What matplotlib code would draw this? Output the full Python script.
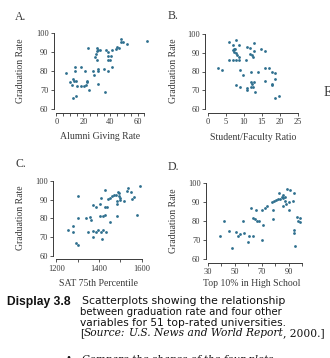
import matplotlib
matplotlib.use("Agg")
import matplotlib.pyplot as plt
from matplotlib.ticker import FixedLocator

# ---- data: graduation rate vs. four variables, 51 universities ----
alumni_giving = [7.3, 9.8, 13.5, 13.5, 12.5, 13, 14.8, 11.8, 15, 18, 20.5, 22, 22.8,
                 22.5, 18.5, 21.5, 23.5, 12.3, 14.3, 24.5, 26.8, 27.8, 30.8, 30.8, 31,
                 29, 28.8, 30, 30, 31, 32.5, 29.8, 35.5, 35.8, 38.5, 38, 39.8, 40.5,
                 38, 37, 38.5, 41, 41, 44, 45, 46, 48, 48, 49.3, 52, 66.8]
grad_a = [79, 74, 82, 80, 76, 75, 74.5, 72.5, 72, 72, 72, 72.5, 74,
          75, 82, 80, 92, 66, 67, 70, 80, 78, 80, 81, 73,
          89, 87.5, 86, 92, 91, 91.3, 90.7, 81, 69, 80, 86, 86, 88,
          88, 91, 90, 91, 82, 91.5, 92.6, 92, 97, 95.5, 95, 94, 96]

sf_ratio = [2.8, 4, 6, 7, 7.9, 8.8, 6.9, 7.2, 7.3, 7.6, 7.9, 8, 7.9, 6, 6.9, 8.6,
            8.7, 8.9, 9.9, 7.9, 8.9, 10.8, 10.6, 11.8, 11.8, 12.2, 12.8, 12.8, 12.7,
            12, 13.9, 14.8, 15.8, 16, 16.9, 17.8, 18.7, 15.8, 17.8, 17.8, 18.8, 10.8,
            10.8, 11.9, 12.3, 12.6, 12.8, 12, 13, 18.8, 19.9]
grad_b = [82, 81, 96, 94, 97, 94, 91.5, 91.8, 90.5, 91.8, 90, 88.8, 86, 86, 86, 87.5,
          86, 81, 78, 73, 72, 93, 86, 92.5, 89.5, 88.8, 91, 95, 87.5,
          80, 80, 92, 91, 82, 82, 80, 79, 75, 73.5, 72.8, 76, 71,
          70, 72, 73.5, 72, 74.5, 74.5, 69, 66, 67]

sat75 = [1256, 1277, 1280, 1292, 1300, 1302, 1303, 1339, 1358, 1361, 1347, 1370, 1370,
         1372, 1386, 1386, 1395, 1405, 1405, 1408, 1408, 1412, 1419, 1420, 1428, 1430,
         1433, 1430, 1437, 1442, 1450, 1453, 1461, 1469, 1480, 1484, 1484, 1484, 1489,
         1495, 1495, 1500, 1500, 1517, 1530, 1535, 1550, 1555, 1562, 1577, 1590]
grad_c = [74, 76, 72.5, 67, 66, 92, 80, 80, 80.5, 79, 72.5, 87, 73.5,
          70, 86, 72.5, 74, 81, 87.5, 91, 73, 69, 74, 81.5, 95, 82,
          72.5, 86, 86, 90.5, 91, 78, 92, 92.5, 92.5, 89, 81, 87.5, 94,
          93.5, 92, 91, 89.5, 89, 94.5, 96, 94, 90.5, 91.5, 82, 97]

top10 = [39, 42, 46, 48, 51, 52.5, 54, 56, 57, 60, 60.5, 62, 63.3, 63.3, 65, 66, 66.3,
         67.8, 70, 70, 70.8, 72.5, 74, 77.5, 78, 78, 79, 80.5, 82, 82.5, 83.5, 85,
         85.5, 86, 86, 87, 87.5, 88, 89, 90, 90.3, 91, 93.5, 94.2, 94.2, 94.2, 94.7,
         96.5, 97, 98.3, 98.3]
grad_d = [72, 80, 75, 66, 74.5, 72, 73, 80, 74, 69, 72, 87, 72, 81.5, 81, 86, 80,
          80, 86, 70, 78, 87, 88, 90, 86, 81, 90.5, 91, 91.5, 95, 91.5, 93,
          88, 94, 92, 92.6, 90.5, 89, 97, 86, 90, 96.5, 90.5, 95, 75.5, 74, 67,
          82, 80, 81.5, 79.5]

grad_ticks = [60, 70, 80, 90, 100]

W, H = 330, 358
fig = plt.figure(figsize=(W / 100, H / 100), dpi=100)
fig.patch.set_facecolor("white")
renderer = fig.canvas.get_renderer()

SERIF = ["Liberation Serif", "DejaVu Serif"]
SANS = ["Liberation Sans", "DejaVu Sans"]
WIDE_SANS = ["DejaVu Sans"]
WIDE_SERIF = ["DejaVu Serif"]
DOT = "#2e6f8e"
INK = "#3a3a3a"
CAP = "#111111"


def px_text(x, y, s, **kw):
    return fig.text(x / W, 1 - y / H, s, **kw)


def fitted_line(x0, x1, y, pieces, family, base=8.0):
    """Lay out (text, style) pieces left to right, sized so the line spans x0..x1 px."""
    texts = [px_text(0, y, s, family=family, style=st, color=CAP, fontsize=base,
                     va="center") for s, st in pieces]
    total = sum(t.get_window_extent(renderer).width for t in texts)
    size = base * (x1 - x0) / total
    x = x0
    for t in texts:
        t.set_fontsize(size)
        t.set_x(x / W)
        x += t.get_window_extent(renderer).width
    return texts


def panel(xmap, ymap, xlim, ylim, xmajor, xminor, xbounds):
    """xmap/ymap: ((value, pixel), (value, pixel)) calibration pairs."""
    (xa, pxa), (xb, pxb) = xmap
    (ya, pya), (yb, pyb) = ymap
    sx = (pxb - pxa) / (xb - xa)
    sy = (pyb - pya) / (yb - ya)
    left = pxa + (xlim[0] - xa) * sx
    right = pxa + (xlim[1] - xa) * sx
    bottom = pya + (ylim[0] - ya) * sy
    top = pya + (ylim[1] - ya) * sy
    ax = fig.add_axes([left / W, 1 - bottom / H, (right - left) / W, (bottom - top) / H])
    ax.set_xlim(*xlim)
    ax.set_ylim(*ylim)
    for side in ("top", "right"):
        ax.spines[side].set_visible(False)
    for side in ("left", "bottom"):
        ax.spines[side].set_color(INK)
        ax.spines[side].set_linewidth(0.7)
    ax.spines["left"].set_bounds(60, 100)
    ax.spines["bottom"].set_bounds(*xbounds)
    ax.yaxis.set_major_locator(FixedLocator(grad_ticks))
    ax.xaxis.set_major_locator(FixedLocator(xmajor))
    ax.xaxis.set_minor_locator(FixedLocator(xminor))
    ax.tick_params(which="both", direction="out", length=2.2, width=0.6,
                   color=INK, labelsize=6, labelcolor=INK, pad=1.5)
    for lab in ax.get_xticklabels() + ax.get_yticklabels():
        lab.set_family(SERIF)
    ax.patch.set_alpha(0)
    return ax


# A. Alumni giving rate
axA = panel(((0, 56.3), (60, 137.5)), ((60, 109), (100, 33)),
            (-1.9, 68), (57.9, 101.6), [0, 20, 40, 60],
            [5, 10, 15, 25, 30, 35, 45, 50, 55, 65], (0, 65))
axA.scatter(alumni_giving, grad_a, s=4, color=DOT, linewidths=0, zorder=3)

# B. Student/faculty ratio
axB = panel(((0, 207.7), (25, 297.7)), ((60, 109), (100, 34)),
            (-0.75, 25.5), (57.9, 101.6), [0, 5, 10, 15, 20, 25], [], (0, 25))
axB.scatter(sf_ratio, grad_b, s=4, color=DOT, linewidths=0, zorder=3)

# C. SAT 75th percentile
axC = panel(((1200, 56.3), (1600, 141.7)), ((60, 256), (100, 180.7)),
            (1184.5, 1610), (58.2, 101.6), [1200, 1400, 1600], [1300, 1500],
            (1200, 1600))
axC.scatter(sat75, grad_c, s=4, color=DOT, linewidths=0, zorder=3)

# D. Top 10% in high school
axD = panel(((30, 207.7), (90, 288.7)), ((60, 259), (100, 183.3)),
            (28.5, 101.5), (57.9, 101.6), [30, 50, 70, 90], [40, 60, 80, 100],
            (30, 100))
axD.scatter(top10, grad_d, s=4, color=DOT, linewidths=0, zorder=3)

# panel letters and axis titles
lab_kw = dict(family=SERIF, color=INK, fontsize=7)
for letter, x, y in [("A.", 15, 17), ("B.", 168, 16), ("C.", 15, 164), ("D.", 168, 167)]:
    px_text(x, y, letter, family=SERIF, color=INK, fontsize=8.5, va="center")
for x, y in [(21, 71), (173, 71), (21, 218), (173, 221)]:
    px_text(x, y, "Graduation Rate", rotation=90, ha="center", va="center", **lab_kw)
px_text(100, 136, "Alumni Giving Rate", ha="center", va="center", **lab_kw)
px_text(253, 137, "Student/Faculty Ratio", ha="center", va="center", **lab_kw)
px_text(98, 284, "SAT 75th Percentile", ha="center", va="center", **lab_kw)
px_text(252, 284, "Top 10% in High School", ha="center", va="center", **lab_kw)
px_text(324, 93, "E", family=SERIF, color=INK, fontsize=10, va="center")

# caption
px_text(7, 301.5, "Display 3.8", fontweight="bold", family=SANS, color=CAP,
        fontsize=8.7, va="center")
fitted_line(82, 285, 301.5, [("Scatterplots showing the relationship", "normal")],
            WIDE_SANS)
fitted_line(80, 283, 312.3, [("between graduation rate and four other", "normal")],
            WIDE_SANS)
fitted_line(80, 286, 322.8, [("variables for 51 top-rated universities.", "normal")],
            WIDE_SANS)
fitted_line(80, 325, 333.5, [("[", "normal"), ("Source:", "italic"), (" ", "normal"),
                             ("U.S. News and World Report", "italic"),
                             (", 2000.]", "normal")], WIDE_SERIF)

px_text(66, 358.5, "\u2022", family=SERIF, color=CAP, fontsize=8.5, va="center")
fitted_line(82, 277, 359, [("Compare the shapes of the four plots.", "italic")],
            WIDE_SERIF)

fig.savefig("out.png", dpi=100)
